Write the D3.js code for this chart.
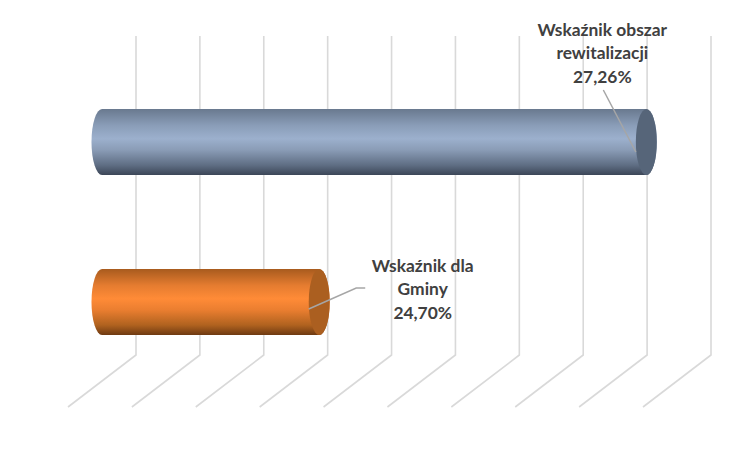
<!DOCTYPE html>
<html>
<head>
<meta charset="utf-8">
<script src="https://cdn.jsdelivr.net/npm/d3@7"></script>
<style>
html, body { margin: 0; padding: 0; background: #fff; }
svg { display: block; }
.label { font-family: Lato, "Open Sans", sans-serif; font-weight: 700; font-size: 17.4px; fill: #404040; text-anchor: middle; }
</style>
</head>
<body>
<svg id="chart" width="750" height="450"></svg>
<script>
var categories = ["obszar", "gmina"],
    values = [27.26, 24.70],
    labels = [
        ["Wskaźnik obszar", "rewitalizacji", "27,26%"],
        ["Wskaźnik dla", "Gminy", "24,70%"]
    ],
    tickValues = [23, 23.5, 24, 24.5, 25, 25.5, 26, 26.5, 27, 27.5];

var wall = { top: 36, bottom: 355 },
    depth = { x: -68, y: 52 }, // wall to front of floor
    capRx = 10.5,
    svg = d3.select("#chart"),
    defs = svg.append("defs");

// scale sits on the back wall, bars stand half way to the front
var x = d3.scaleLinear().domain([23, 27.5]).range([136, 711]);
var y = d3.scaleBand().domain(categories).range([62, 382])
    .paddingInner(94 / 160).paddingOuter(47 / 160);

function barX(v) {
    return x(v) + depth.x / 2;
}

var barColors = {
    obszar: { stops: ["#69798f", "#8a9db8", "#9cb0cd", "#8a9cb6", "#5f6e84", "#3c4657"], cap: "#566579" },
    gmina: { stops: ["#a85b1e", "#e57c30", "#ff8b37", "#ea7e30", "#b0621f", "#6e3a12"], cap: "#ab5f20" }
};
var stopOffsets = [0, 0.25, 0.45, 0.62, 0.85, 1];

categories.forEach(function(c) {
    defs.append("linearGradient")
        .attr("id", "grad-" + c)
        .attr("x1", 0).attr("y1", 0).attr("x2", 0).attr("y2", 1)
        .selectAll("stop")
        .data(barColors[c].stops).enter()
        .append("stop")
        .attr("offset", function(d, i) { return stopOffsets[i]; })
        .attr("stop-color", function(d) { return d; });
});

// gridlines: up the wall, then forward across the floor
svg.append("g").selectAll("path")
    .data(tickValues).enter()
    .append("path")
    .attr("fill", "none")
    .attr("stroke", "#d9d9d9")
    .attr("stroke-width", 1.6)
    .attr("d", function(d) {
        return d3.line()([
            [x(d), wall.top],
            [x(d), wall.bottom],
            [x(d) + depth.x, wall.bottom + depth.y]
        ]);
    });

var bars = svg.append("g").selectAll("g")
    .data(categories).enter()
    .append("g");

bars.append("path")
    .attr("fill", function(c) { return "url(#grad-" + c + ")"; })
    .attr("d", function(c, i) {
        var x0 = barX(23), x1 = barX(values[i]),
            top = y(c), h = y.bandwidth(), ry = h / 2;
        return "M" + x0 + "," + top +
            "L" + x1 + "," + top +
            "A" + capRx + "," + ry + " 0 0 1 " + x1 + "," + (top + h) +
            "L" + x0 + "," + (top + h) +
            "A" + capRx + "," + ry + " 0 0 1 " + x0 + "," + top + "Z";
    });

bars.append("ellipse")
    .attr("cx", function(c, i) { return barX(values[i]); })
    .attr("cy", function(c) { return y(c) + y.bandwidth() / 2; })
    .attr("rx", capRx)
    .attr("ry", y.bandwidth() / 2)
    .attr("fill", function(c) { return barColors[c].cap; });

// leader lines, relative to the end of each bar
var leaders = [
    [[-10.5, 10], [-43, -52]],
    [[-10.5, 7], [37, -14], [46, -14]]
];

bars.append("path")
    .attr("fill", "none")
    .attr("stroke", "#a6a6a6")
    .attr("stroke-width", 1.5)
    .attr("d", function(c, i) {
        var ex = barX(values[i]), ey = y(c) + y.bandwidth() / 2;
        return d3.line()(leaders[i].map(function(p) {
            return [ex + p[0], ey + p[1]];
        }));
    });

var labelPos = [
    { dx: -44, dy: -112 },
    { dx: 103.5, dy: -36 }
];

bars.append("text")
    .attr("class", "label")
    .each(function(c, i) {
        var ex = barX(values[i]) + labelPos[i].dx,
            ey = y(c) + y.bandwidth() / 2 + labelPos[i].dy;
        d3.select(this).selectAll("tspan")
            .data(labels[i]).enter()
            .append("tspan")
            .attr("x", ex)
            .attr("y", function(d, k) { return ey + k * 23.5 + 5.5; })
            .text(function(d) { return d; });
    });
</script>
</body>
</html>
